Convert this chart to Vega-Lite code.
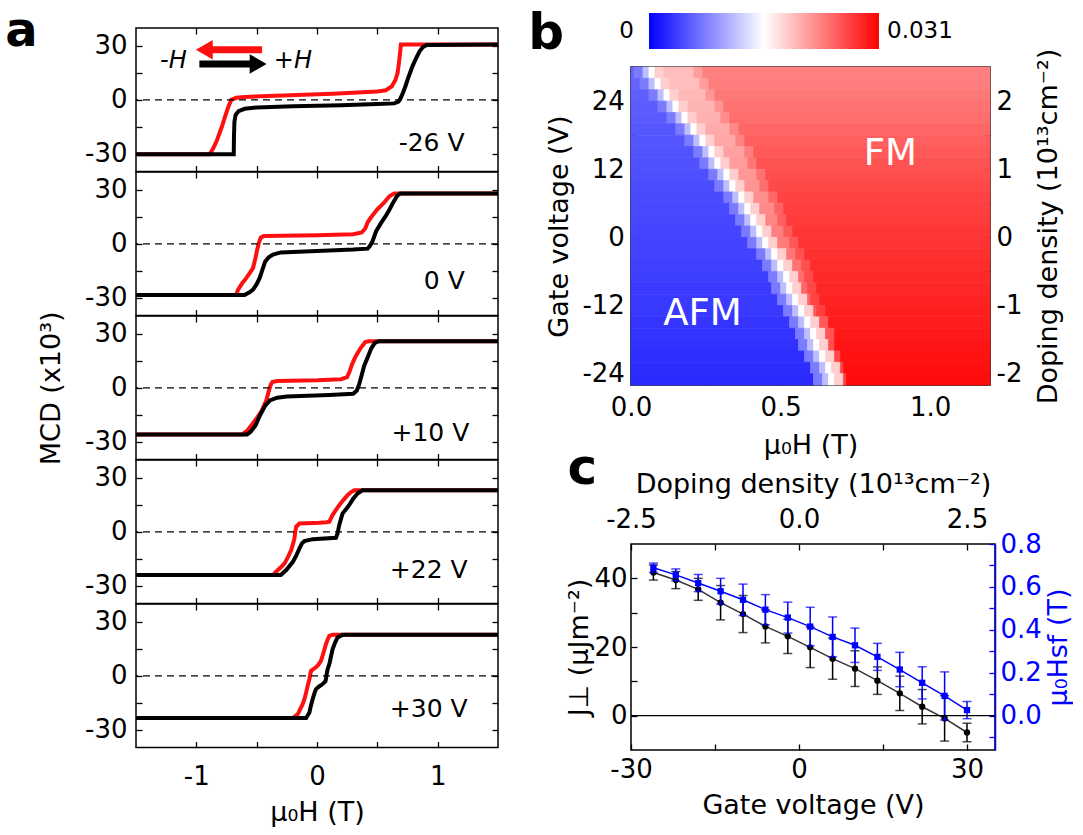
{
"$schema": "https://vega.github.io/schema/vega-lite/v6.json",
"background": "white",
"padding": {"left": 4, "top": 7, "right": 0, "bottom": 0},
"config": {
 "font": "DejaVu Sans",
 "view": {"stroke": "black", "strokeWidth": 1.5},
 "axis": {"grid": false, "domain": false, "ticks": true, "tickColor": "black", "tickSize": -6, "tickWidth": 1.3, "labelColor": "black", "labelFontSize": 26, "labelFont": "DejaVu Sans", "titleFont": "DejaVu Sans", "titleFontSize": 27, "titleFontWeight": "normal", "titleColor": "black", "labelFlush": false, "labelOverlap": false, "labelBound": false}
},
"datasets": {
"curves": [
{"p":"A","s":"b","h":-1.5,"m":-30.3},{"p":"A","s":"b","h":-0.69,"m":-30.3},{"p":"A","s":"b","h":-0.688,"m":-20},{"p":"A","s":"b","h":-0.684,"m":-12},{"p":"A","s":"b","h":-0.675,"m":-8.5},{"p":"A","s":"b","h":-0.65,"m":-6.3},{"p":"A","s":"b","h":-0.6,"m":-5},{"p":"A","s":"b","h":-0.5,"m":-4.3},{"p":"A","s":"b","h":-0.2,"m":-3.6},{"p":"A","s":"b","h":0.2,"m":-3},{"p":"A","s":"b","h":0.5,"m":-2.4},{"p":"A","s":"b","h":0.64,"m":-2},{"p":"A","s":"b","h":0.675,"m":-1},{"p":"A","s":"b","h":0.69,"m":0.5},{"p":"A","s":"b","h":0.71,"m":3.5},{"p":"A","s":"b","h":0.73,"m":7},{"p":"A","s":"b","h":0.76,"m":13},{"p":"A","s":"b","h":0.79,"m":18.5},{"p":"A","s":"b","h":0.82,"m":23},{"p":"A","s":"b","h":0.85,"m":27},{"p":"A","s":"b","h":0.88,"m":29.5},{"p":"A","s":"b","h":0.91,"m":30.5},{"p":"A","s":"b","h":1.5,"m":30.8},
{"p":"A","s":"r","h":-1.5,"m":-30.3},{"p":"A","s":"r","h":-0.89,"m":-30.3},{"p":"A","s":"r","h":-0.86,"m":-27},{"p":"A","s":"r","h":-0.83,"m":-22.7},{"p":"A","s":"r","h":-0.79,"m":-15.3},{"p":"A","s":"r","h":-0.76,"m":-9},{"p":"A","s":"r","h":-0.736,"m":-4.1},{"p":"A","s":"r","h":-0.71,"m":0},{"p":"A","s":"r","h":-0.67,"m":1.1},{"p":"A","s":"r","h":-0.6,"m":1.6},{"p":"A","s":"r","h":0.13,"m":3.4},{"p":"A","s":"r","h":0.5,"m":4.6},{"p":"A","s":"r","h":0.57,"m":5.3},{"p":"A","s":"r","h":0.62,"m":7.5},{"p":"A","s":"r","h":0.65,"m":11},{"p":"A","s":"r","h":0.668,"m":15},{"p":"A","s":"r","h":0.68,"m":21},{"p":"A","s":"r","h":0.69,"m":27},{"p":"A","s":"r","h":0.695,"m":30.8},{"p":"A","s":"r","h":1.5,"m":30.8},
{"p":"B","s":"b","h":-1.5,"m":-28.5},{"p":"B","s":"b","h":-0.6,"m":-28.5},{"p":"B","s":"b","h":-0.56,"m":-27},{"p":"B","s":"b","h":-0.53,"m":-25.5},{"p":"B","s":"b","h":-0.5,"m":-22.5},{"p":"B","s":"b","h":-0.475,"m":-19},{"p":"B","s":"b","h":-0.45,"m":-14},{"p":"B","s":"b","h":-0.43,"m":-10},{"p":"B","s":"b","h":-0.4,"m":-7.5},{"p":"B","s":"b","h":-0.365,"m":-6},{"p":"B","s":"b","h":-0.3,"m":-4.8},{"p":"B","s":"b","h":0,"m":-4},{"p":"B","s":"b","h":0.3,"m":-3.2},{"p":"B","s":"b","h":0.42,"m":-2.7},{"p":"B","s":"b","h":0.44,"m":-1},{"p":"B","s":"b","h":0.46,"m":1.5},{"p":"B","s":"b","h":0.49,"m":7},{"p":"B","s":"b","h":0.53,"m":11.5},{"p":"B","s":"b","h":0.57,"m":15.5},{"p":"B","s":"b","h":0.6,"m":19},{"p":"B","s":"b","h":0.635,"m":23.5},{"p":"B","s":"b","h":0.665,"m":26.8},{"p":"B","s":"b","h":0.69,"m":28},{"p":"B","s":"b","h":1.5,"m":28},
{"p":"B","s":"r","h":-1.5,"m":-28.5},{"p":"B","s":"r","h":-0.67,"m":-28.5},{"p":"B","s":"r","h":-0.654,"m":-25.5},{"p":"B","s":"r","h":-0.62,"m":-22},{"p":"B","s":"r","h":-0.585,"m":-19},{"p":"B","s":"r","h":-0.555,"m":-16},{"p":"B","s":"r","h":-0.53,"m":-13.4},{"p":"B","s":"r","h":-0.51,"m":-8},{"p":"B","s":"r","h":-0.495,"m":-3},{"p":"B","s":"r","h":-0.48,"m":1},{"p":"B","s":"r","h":-0.465,"m":3.5},{"p":"B","s":"r","h":-0.44,"m":4.3},{"p":"B","s":"r","h":0,"m":4.8},{"p":"B","s":"r","h":0.3,"m":5.3},{"p":"B","s":"r","h":0.37,"m":6.3},{"p":"B","s":"r","h":0.4,"m":8.5},{"p":"B","s":"r","h":0.42,"m":12},{"p":"B","s":"r","h":0.445,"m":14.5},{"p":"B","s":"r","h":0.5,"m":19.2},{"p":"B","s":"r","h":0.55,"m":22.5},{"p":"B","s":"r","h":0.6,"m":26.5},{"p":"B","s":"r","h":0.64,"m":28},{"p":"B","s":"r","h":1.5,"m":28},
{"p":"C","s":"b","h":-1.5,"m":-26},{"p":"C","s":"b","h":-0.58,"m":-26},{"p":"C","s":"b","h":-0.55,"m":-24.5},{"p":"C","s":"b","h":-0.51,"m":-21},{"p":"C","s":"b","h":-0.47,"m":-15},{"p":"C","s":"b","h":-0.43,"m":-10},{"p":"C","s":"b","h":-0.39,"m":-7},{"p":"C","s":"b","h":-0.33,"m":-5.5},{"p":"C","s":"b","h":-0.25,"m":-4.8},{"p":"C","s":"b","h":0.1,"m":-4},{"p":"C","s":"b","h":0.3,"m":-3.3},{"p":"C","s":"b","h":0.33,"m":-1.5},{"p":"C","s":"b","h":0.35,"m":2},{"p":"C","s":"b","h":0.37,"m":7},{"p":"C","s":"b","h":0.39,"m":12},{"p":"C","s":"b","h":0.42,"m":17},{"p":"C","s":"b","h":0.45,"m":22},{"p":"C","s":"b","h":0.48,"m":25},{"p":"C","s":"b","h":0.51,"m":26},{"p":"C","s":"b","h":1.5,"m":26},
{"p":"C","s":"r","h":-1.5,"m":-26},{"p":"C","s":"r","h":-0.62,"m":-26},{"p":"C","s":"r","h":-0.58,"m":-24},{"p":"C","s":"r","h":-0.54,"m":-20.5},{"p":"C","s":"r","h":-0.5,"m":-17},{"p":"C","s":"r","h":-0.46,"m":-13},{"p":"C","s":"r","h":-0.42,"m":-7},{"p":"C","s":"r","h":-0.4,"m":-2},{"p":"C","s":"r","h":-0.385,"m":1.5},{"p":"C","s":"r","h":-0.37,"m":3.2},{"p":"C","s":"r","h":-0.33,"m":3.8},{"p":"C","s":"r","h":0,"m":4.2},{"p":"C","s":"r","h":0.2,"m":4.8},{"p":"C","s":"r","h":0.25,"m":6},{"p":"C","s":"r","h":0.27,"m":9},{"p":"C","s":"r","h":0.29,"m":13},{"p":"C","s":"r","h":0.32,"m":17.5},{"p":"C","s":"r","h":0.36,"m":22},{"p":"C","s":"r","h":0.4,"m":25.5},{"p":"C","s":"r","h":0.43,"m":26},{"p":"C","s":"r","h":1.5,"m":26},
{"p":"D","s":"b","h":-1.5,"m":-24.1},{"p":"D","s":"b","h":-0.3,"m":-24.1},{"p":"D","s":"b","h":-0.255,"m":-21.3},{"p":"D","s":"b","h":-0.2,"m":-16.7},{"p":"D","s":"b","h":-0.17,"m":-13},{"p":"D","s":"b","h":-0.146,"m":-9.3},{"p":"D","s":"b","h":-0.125,"m":-6.5},{"p":"D","s":"b","h":-0.104,"m":-5.2},{"p":"D","s":"b","h":-0.036,"m":-4.1},{"p":"D","s":"b","h":0.157,"m":-3.3},{"p":"D","s":"b","h":0.17,"m":-1},{"p":"D","s":"b","h":0.184,"m":3.7},{"p":"D","s":"b","h":0.2,"m":7.5},{"p":"D","s":"b","h":0.212,"m":10.2},{"p":"D","s":"b","h":0.24,"m":12.5},{"p":"D","s":"b","h":0.266,"m":14.8},{"p":"D","s":"b","h":0.3,"m":18.5},{"p":"D","s":"b","h":0.335,"m":21.3},{"p":"D","s":"b","h":0.376,"m":23.1},{"p":"D","s":"b","h":1.5,"m":23.1},
{"p":"D","s":"r","h":-1.5,"m":-24.1},{"p":"D","s":"r","h":-0.36,"m":-24.1},{"p":"D","s":"r","h":-0.352,"m":-23.1},{"p":"D","s":"r","h":-0.324,"m":-21.3},{"p":"D","s":"r","h":-0.295,"m":-19.5},{"p":"D","s":"r","h":-0.269,"m":-17.6},{"p":"D","s":"r","h":-0.24,"m":-14},{"p":"D","s":"r","h":-0.214,"m":-10.2},{"p":"D","s":"r","h":-0.2,"m":-7},{"p":"D","s":"r","h":-0.187,"m":-3.7},{"p":"D","s":"r","h":-0.18,"m":0},{"p":"D","s":"r","h":-0.173,"m":2.8},{"p":"D","s":"r","h":-0.146,"m":4.6},{"p":"D","s":"r","h":0.019,"m":5},{"p":"D","s":"r","h":0.08,"m":5.3},{"p":"D","s":"r","h":0.102,"m":5.6},{"p":"D","s":"r","h":0.115,"m":7.5},{"p":"D","s":"r","h":0.129,"m":9.3},{"p":"D","s":"r","h":0.155,"m":12},{"p":"D","s":"r","h":0.184,"m":14.8},{"p":"D","s":"r","h":0.22,"m":17.8},{"p":"D","s":"r","h":0.253,"m":20.4},{"p":"D","s":"r","h":0.28,"m":22},{"p":"D","s":"r","h":0.308,"m":23.1},{"p":"D","s":"r","h":1.5,"m":23.1},
{"p":"E","s":"b","h":-1.5,"m":-23.5},{"p":"E","s":"b","h":-0.09,"m":-23.5},{"p":"E","s":"b","h":-0.063,"m":-20.4},{"p":"E","s":"b","h":-0.05,"m":-16.5},{"p":"E","s":"b","h":-0.036,"m":-13},{"p":"E","s":"b","h":-0.02,"m":-9.5},{"p":"E","s":"b","h":-0.008,"m":-7.4},{"p":"E","s":"b","h":0.02,"m":-5.8},{"p":"E","s":"b","h":0.047,"m":-4.6},{"p":"E","s":"b","h":0.07,"m":-3},{"p":"E","s":"b","h":0.074,"m":-1.9},{"p":"E","s":"b","h":0.08,"m":1},{"p":"E","s":"b","h":0.088,"m":3.7},{"p":"E","s":"b","h":0.102,"m":6.5},{"p":"E","s":"b","h":0.115,"m":10.5},{"p":"E","s":"b","h":0.129,"m":14.8},{"p":"E","s":"b","h":0.15,"m":18.5},{"p":"E","s":"b","h":0.17,"m":21.3},{"p":"E","s":"b","h":0.212,"m":22.8},{"p":"E","s":"b","h":1.5,"m":22.8},
{"p":"E","s":"r","h":-1.5,"m":-23.5},{"p":"E","s":"r","h":-0.2,"m":-23.5},{"p":"E","s":"r","h":-0.159,"m":-21.3},{"p":"E","s":"r","h":-0.118,"m":-15.7},{"p":"E","s":"r","h":-0.1,"m":-12},{"p":"E","s":"r","h":-0.09,"m":-9.3},{"p":"E","s":"r","h":-0.075,"m":-5},{"p":"E","s":"r","h":-0.063,"m":-1.9},{"p":"E","s":"r","h":-0.055,"m":1},{"p":"E","s":"r","h":-0.049,"m":2.8},{"p":"E","s":"r","h":-0.02,"m":4.2},{"p":"E","s":"r","h":0.005,"m":5.6},{"p":"E","s":"r","h":0.02,"m":7},{"p":"E","s":"r","h":0.033,"m":8.3},{"p":"E","s":"r","h":0.05,"m":12},{"p":"E","s":"r","h":0.065,"m":15.5},{"p":"E","s":"r","h":0.074,"m":17.6},{"p":"E","s":"r","h":0.09,"m":20.5},{"p":"E","s":"r","h":0.102,"m":22.2},{"p":"E","s":"r","h":0.129,"m":22.8},{"p":"E","s":"r","h":1.5,"m":22.8}
],
"heat": [
{"h1":0,"h2":0.01,"v1":28,"v2":30,"m":0.006},{"h1":0.01,"h2":0.04,"v1":28,"v2":30,"m":0.0075},{"h1":0.04,"h2":0.06,"v1":28,"v2":30,"m":0.0115},{"h1":0.06,"h2":0.08,"v1":28,"v2":30,"m":0.0155},{"h1":0.08,"h2":0.11,"v1":28,"v2":30,"m":0.0185},{"h1":0.11,"h2":0.21,"v1":28,"v2":30,"m":0.0195},{"h1":0.21,"h2":0.24,"v1":28,"v2":30,"m":0.0214},{"h1":0.24,"h2":1.2,"v1":28,"v2":30,"m":0.0232},
{"h1":0,"h2":0.03,"v1":26,"v2":28,"m":0.006},{"h1":0.03,"h2":0.06,"v1":26,"v2":28,"m":0.0075},{"h1":0.06,"h2":0.08,"v1":26,"v2":28,"m":0.0115},{"h1":0.08,"h2":0.1,"v1":26,"v2":28,"m":0.0155},{"h1":0.1,"h2":0.13,"v1":26,"v2":28,"m":0.0185},{"h1":0.13,"h2":0.23,"v1":26,"v2":28,"m":0.0195},{"h1":0.23,"h2":0.26,"v1":26,"v2":28,"m":0.0215},{"h1":0.26,"h2":1.2,"v1":26,"v2":28,"m":0.0234},
{"h1":0,"h2":0.06,"v1":24,"v2":26,"m":0.0058},{"h1":0.06,"h2":0.09,"v1":24,"v2":26,"m":0.0075},{"h1":0.09,"h2":0.11,"v1":24,"v2":26,"m":0.0115},{"h1":0.11,"h2":0.13,"v1":24,"v2":26,"m":0.0155},{"h1":0.13,"h2":0.16,"v1":24,"v2":26,"m":0.0185},{"h1":0.16,"h2":0.25,"v1":24,"v2":26,"m":0.0198},{"h1":0.25,"h2":0.28,"v1":24,"v2":26,"m":0.0218},{"h1":0.28,"h2":1.2,"v1":24,"v2":26,"m":0.0237},
{"h1":0,"h2":0.09,"v1":22,"v2":24,"m":0.0056},{"h1":0.09,"h2":0.12,"v1":22,"v2":24,"m":0.0075},{"h1":0.12,"h2":0.14,"v1":22,"v2":24,"m":0.0115},{"h1":0.14,"h2":0.16,"v1":22,"v2":24,"m":0.0155},{"h1":0.16,"h2":0.19,"v1":22,"v2":24,"m":0.0185},{"h1":0.19,"h2":0.28,"v1":22,"v2":24,"m":0.02},{"h1":0.28,"h2":0.31,"v1":22,"v2":24,"m":0.022},{"h1":0.31,"h2":1.2,"v1":22,"v2":24,"m":0.024},
{"h1":0,"h2":0.12,"v1":20,"v2":22,"m":0.0055},{"h1":0.12,"h2":0.15,"v1":20,"v2":22,"m":0.0075},{"h1":0.15,"h2":0.17,"v1":20,"v2":22,"m":0.0115},{"h1":0.17,"h2":0.19,"v1":20,"v2":22,"m":0.0155},{"h1":0.19,"h2":0.22,"v1":20,"v2":22,"m":0.0185},{"h1":0.22,"h2":0.3,"v1":20,"v2":22,"m":0.0203},{"h1":0.3,"h2":0.33,"v1":20,"v2":22,"m":0.0224},{"h1":0.33,"h2":1.2,"v1":20,"v2":22,"m":0.0244},
{"h1":0,"h2":0.15,"v1":18,"v2":20,"m":0.0053},{"h1":0.15,"h2":0.18,"v1":18,"v2":20,"m":0.0075},{"h1":0.18,"h2":0.2,"v1":18,"v2":20,"m":0.0115},{"h1":0.2,"h2":0.22,"v1":18,"v2":20,"m":0.0155},{"h1":0.22,"h2":0.25,"v1":18,"v2":20,"m":0.0185},{"h1":0.25,"h2":0.33,"v1":18,"v2":20,"m":0.0206},{"h1":0.33,"h2":0.36,"v1":18,"v2":20,"m":0.0227},{"h1":0.36,"h2":1.2,"v1":18,"v2":20,"m":0.0248},
{"h1":0,"h2":0.18,"v1":16,"v2":18,"m":0.0052},{"h1":0.18,"h2":0.21,"v1":16,"v2":18,"m":0.0075},{"h1":0.21,"h2":0.23,"v1":16,"v2":18,"m":0.0115},{"h1":0.23,"h2":0.25,"v1":16,"v2":18,"m":0.0155},{"h1":0.25,"h2":0.28,"v1":16,"v2":18,"m":0.0185},{"h1":0.28,"h2":0.35,"v1":16,"v2":18,"m":0.0209},{"h1":0.35,"h2":0.38,"v1":16,"v2":18,"m":0.0231},{"h1":0.38,"h2":1.2,"v1":16,"v2":18,"m":0.0252},
{"h1":0,"h2":0.21,"v1":14,"v2":16,"m":0.005},{"h1":0.21,"h2":0.24,"v1":14,"v2":16,"m":0.0075},{"h1":0.24,"h2":0.26,"v1":14,"v2":16,"m":0.0115},{"h1":0.26,"h2":0.28,"v1":14,"v2":16,"m":0.0155},{"h1":0.28,"h2":0.31,"v1":14,"v2":16,"m":0.0185},{"h1":0.31,"h2":0.38,"v1":14,"v2":16,"m":0.0212},{"h1":0.38,"h2":0.41,"v1":14,"v2":16,"m":0.0234},{"h1":0.41,"h2":1.2,"v1":14,"v2":16,"m":0.0256},
{"h1":0,"h2":0.23,"v1":12,"v2":14,"m":0.0049},{"h1":0.23,"h2":0.26,"v1":12,"v2":14,"m":0.0075},{"h1":0.26,"h2":0.28,"v1":12,"v2":14,"m":0.0115},{"h1":0.28,"h2":0.3,"v1":12,"v2":14,"m":0.0155},{"h1":0.3,"h2":0.33,"v1":12,"v2":14,"m":0.0185},{"h1":0.33,"h2":0.39,"v1":12,"v2":14,"m":0.0215},{"h1":0.39,"h2":0.42,"v1":12,"v2":14,"m":0.0238},{"h1":0.42,"h2":1.2,"v1":12,"v2":14,"m":0.026},
{"h1":0,"h2":0.26,"v1":10,"v2":12,"m":0.0048},{"h1":0.26,"h2":0.29,"v1":10,"v2":12,"m":0.0075},{"h1":0.29,"h2":0.31,"v1":10,"v2":12,"m":0.0115},{"h1":0.31,"h2":0.33,"v1":10,"v2":12,"m":0.0155},{"h1":0.33,"h2":0.36,"v1":10,"v2":12,"m":0.0185},{"h1":0.36,"h2":0.42,"v1":10,"v2":12,"m":0.0218},{"h1":0.42,"h2":0.45,"v1":10,"v2":12,"m":0.0241},{"h1":0.45,"h2":1.2,"v1":10,"v2":12,"m":0.0263},
{"h1":0,"h2":0.28,"v1":8,"v2":10,"m":0.0046},{"h1":0.28,"h2":0.31,"v1":8,"v2":10,"m":0.0075},{"h1":0.31,"h2":0.33,"v1":8,"v2":10,"m":0.0115},{"h1":0.33,"h2":0.35,"v1":8,"v2":10,"m":0.0155},{"h1":0.35,"h2":0.38,"v1":8,"v2":10,"m":0.0185},{"h1":0.38,"h2":0.43,"v1":8,"v2":10,"m":0.022},{"h1":0.43,"h2":0.46,"v1":8,"v2":10,"m":0.0243},{"h1":0.46,"h2":1.2,"v1":8,"v2":10,"m":0.0266},
{"h1":0,"h2":0.31,"v1":6,"v2":8,"m":0.0045},{"h1":0.31,"h2":0.34,"v1":6,"v2":8,"m":0.0075},{"h1":0.34,"h2":0.36,"v1":6,"v2":8,"m":0.0115},{"h1":0.36,"h2":0.38,"v1":6,"v2":8,"m":0.0155},{"h1":0.38,"h2":0.41,"v1":6,"v2":8,"m":0.0185},{"h1":0.41,"h2":0.46,"v1":6,"v2":8,"m":0.0223},{"h1":0.46,"h2":0.49,"v1":6,"v2":8,"m":0.0246},{"h1":0.49,"h2":1.2,"v1":6,"v2":8,"m":0.0269},
{"h1":0,"h2":0.33,"v1":4,"v2":6,"m":0.0044},{"h1":0.33,"h2":0.36,"v1":4,"v2":6,"m":0.0075},{"h1":0.36,"h2":0.38,"v1":4,"v2":6,"m":0.0115},{"h1":0.38,"h2":0.4,"v1":4,"v2":6,"m":0.0155},{"h1":0.4,"h2":0.43,"v1":4,"v2":6,"m":0.0185},{"h1":0.43,"h2":0.48,"v1":4,"v2":6,"m":0.0226},{"h1":0.48,"h2":0.51,"v1":4,"v2":6,"m":0.0249},{"h1":0.51,"h2":1.2,"v1":4,"v2":6,"m":0.0272},
{"h1":0,"h2":0.35,"v1":2,"v2":4,"m":0.0043},{"h1":0.35,"h2":0.38,"v1":2,"v2":4,"m":0.0075},{"h1":0.38,"h2":0.4,"v1":2,"v2":4,"m":0.0115},{"h1":0.4,"h2":0.42,"v1":2,"v2":4,"m":0.0155},{"h1":0.42,"h2":0.45,"v1":2,"v2":4,"m":0.0185},{"h1":0.45,"h2":0.49,"v1":2,"v2":4,"m":0.0229},{"h1":0.49,"h2":0.52,"v1":2,"v2":4,"m":0.0252},{"h1":0.52,"h2":1.2,"v1":2,"v2":4,"m":0.0274},
{"h1":0,"h2":0.37,"v1":0,"v2":2,"m":0.0042},{"h1":0.37,"h2":0.4,"v1":0,"v2":2,"m":0.0075},{"h1":0.4,"h2":0.42,"v1":0,"v2":2,"m":0.0115},{"h1":0.42,"h2":0.44,"v1":0,"v2":2,"m":0.0155},{"h1":0.44,"h2":0.47,"v1":0,"v2":2,"m":0.0185},{"h1":0.47,"h2":0.51,"v1":0,"v2":2,"m":0.0232},{"h1":0.51,"h2":0.54,"v1":0,"v2":2,"m":0.0255},{"h1":0.54,"h2":1.2,"v1":0,"v2":2,"m":0.0277},
{"h1":0,"h2":0.39,"v1":-2,"v2":0,"m":0.0041},{"h1":0.39,"h2":0.42,"v1":-2,"v2":0,"m":0.0075},{"h1":0.42,"h2":0.44,"v1":-2,"v2":0,"m":0.0115},{"h1":0.44,"h2":0.46,"v1":-2,"v2":0,"m":0.0155},{"h1":0.46,"h2":0.49,"v1":-2,"v2":0,"m":0.0185},{"h1":0.49,"h2":0.53,"v1":-2,"v2":0,"m":0.0235},{"h1":0.53,"h2":0.56,"v1":-2,"v2":0,"m":0.0257},{"h1":0.56,"h2":1.2,"v1":-2,"v2":0,"m":0.0279},
{"h1":0,"h2":0.42,"v1":-4,"v2":-2,"m":0.004},{"h1":0.42,"h2":0.45,"v1":-4,"v2":-2,"m":0.0075},{"h1":0.45,"h2":0.47,"v1":-4,"v2":-2,"m":0.0115},{"h1":0.47,"h2":0.49,"v1":-4,"v2":-2,"m":0.0155},{"h1":0.49,"h2":0.52,"v1":-4,"v2":-2,"m":0.0185},{"h1":0.52,"h2":0.55,"v1":-4,"v2":-2,"m":0.0238},{"h1":0.55,"h2":0.58,"v1":-4,"v2":-2,"m":0.026},{"h1":0.58,"h2":1.2,"v1":-4,"v2":-2,"m":0.0281},
{"h1":0,"h2":0.44,"v1":-6,"v2":-4,"m":0.0039},{"h1":0.44,"h2":0.47,"v1":-6,"v2":-4,"m":0.0075},{"h1":0.47,"h2":0.49,"v1":-6,"v2":-4,"m":0.0115},{"h1":0.49,"h2":0.51,"v1":-6,"v2":-4,"m":0.0155},{"h1":0.51,"h2":0.54,"v1":-6,"v2":-4,"m":0.0185},{"h1":0.54,"h2":0.57,"v1":-6,"v2":-4,"m":0.0241},{"h1":0.57,"h2":0.6,"v1":-6,"v2":-4,"m":0.0262},{"h1":0.6,"h2":1.2,"v1":-6,"v2":-4,"m":0.0283},
{"h1":0,"h2":0.46,"v1":-8,"v2":-6,"m":0.0038},{"h1":0.46,"h2":0.49,"v1":-8,"v2":-6,"m":0.0075},{"h1":0.49,"h2":0.51,"v1":-8,"v2":-6,"m":0.0115},{"h1":0.51,"h2":0.53,"v1":-8,"v2":-6,"m":0.0155},{"h1":0.53,"h2":0.56,"v1":-8,"v2":-6,"m":0.0185},{"h1":0.56,"h2":0.58,"v1":-8,"v2":-6,"m":0.0244},{"h1":0.58,"h2":0.61,"v1":-8,"v2":-6,"m":0.0265},{"h1":0.61,"h2":1.2,"v1":-8,"v2":-6,"m":0.0285},
{"h1":0,"h2":0.47,"v1":-10,"v2":-8,"m":0.0036},{"h1":0.47,"h2":0.5,"v1":-10,"v2":-8,"m":0.0075},{"h1":0.5,"h2":0.52,"v1":-10,"v2":-8,"m":0.0115},{"h1":0.52,"h2":0.54,"v1":-10,"v2":-8,"m":0.0155},{"h1":0.54,"h2":0.57,"v1":-10,"v2":-8,"m":0.0185},{"h1":0.57,"h2":0.59,"v1":-10,"v2":-8,"m":0.0247},{"h1":0.59,"h2":0.62,"v1":-10,"v2":-8,"m":0.0267},{"h1":0.62,"h2":1.2,"v1":-10,"v2":-8,"m":0.0287},
{"h1":0,"h2":0.49,"v1":-12,"v2":-10,"m":0.0035},{"h1":0.49,"h2":0.52,"v1":-12,"v2":-10,"m":0.0075},{"h1":0.52,"h2":0.54,"v1":-12,"v2":-10,"m":0.0115},{"h1":0.54,"h2":0.56,"v1":-12,"v2":-10,"m":0.0155},{"h1":0.56,"h2":0.59,"v1":-12,"v2":-10,"m":0.0185},{"h1":0.59,"h2":0.6,"v1":-12,"v2":-10,"m":0.025},{"h1":0.6,"h2":0.63,"v1":-12,"v2":-10,"m":0.027},{"h1":0.63,"h2":1.2,"v1":-12,"v2":-10,"m":0.0289},
{"h1":0,"h2":0.51,"v1":-14,"v2":-12,"m":0.0034},{"h1":0.51,"h2":0.54,"v1":-14,"v2":-12,"m":0.0075},{"h1":0.54,"h2":0.56,"v1":-14,"v2":-12,"m":0.0115},{"h1":0.56,"h2":0.58,"v1":-14,"v2":-12,"m":0.0155},{"h1":0.58,"h2":0.61,"v1":-14,"v2":-12,"m":0.0185},{"h1":0.61,"h2":0.62,"v1":-14,"v2":-12,"m":0.0253},{"h1":0.62,"h2":0.65,"v1":-14,"v2":-12,"m":0.0272},{"h1":0.65,"h2":1.2,"v1":-14,"v2":-12,"m":0.0291},
{"h1":0,"h2":0.53,"v1":-16,"v2":-14,"m":0.0032},{"h1":0.53,"h2":0.56,"v1":-16,"v2":-14,"m":0.0075},{"h1":0.56,"h2":0.58,"v1":-16,"v2":-14,"m":0.0115},{"h1":0.58,"h2":0.6,"v1":-16,"v2":-14,"m":0.0155},{"h1":0.6,"h2":0.63,"v1":-16,"v2":-14,"m":0.0185},{"h1":0.63,"h2":0.66,"v1":-16,"v2":-14,"m":0.0256},{"h1":0.66,"h2":1.2,"v1":-16,"v2":-14,"m":0.0293},
{"h1":0,"h2":0.55,"v1":-18,"v2":-16,"m":0.0031},{"h1":0.55,"h2":0.58,"v1":-18,"v2":-16,"m":0.0075},{"h1":0.58,"h2":0.6,"v1":-18,"v2":-16,"m":0.0115},{"h1":0.6,"h2":0.62,"v1":-18,"v2":-16,"m":0.0155},{"h1":0.62,"h2":0.65,"v1":-18,"v2":-16,"m":0.0185},{"h1":0.65,"h2":0.68,"v1":-18,"v2":-16,"m":0.0259},{"h1":0.68,"h2":1.2,"v1":-18,"v2":-16,"m":0.0295},
{"h1":0,"h2":0.56,"v1":-20,"v2":-18,"m":0.003},{"h1":0.56,"h2":0.59,"v1":-20,"v2":-18,"m":0.0075},{"h1":0.59,"h2":0.61,"v1":-20,"v2":-18,"m":0.0115},{"h1":0.61,"h2":0.63,"v1":-20,"v2":-18,"m":0.0155},{"h1":0.63,"h2":0.66,"v1":-20,"v2":-18,"m":0.0185},{"h1":0.66,"h2":0.68,"v1":-20,"v2":-18,"m":0.0262},{"h1":0.68,"h2":1.2,"v1":-20,"v2":-18,"m":0.0297},
{"h1":0,"h2":0.58,"v1":-22,"v2":-20,"m":0.0028},{"h1":0.58,"h2":0.61,"v1":-22,"v2":-20,"m":0.0075},{"h1":0.61,"h2":0.63,"v1":-22,"v2":-20,"m":0.0115},{"h1":0.63,"h2":0.65,"v1":-22,"v2":-20,"m":0.0155},{"h1":0.65,"h2":0.68,"v1":-22,"v2":-20,"m":0.0185},{"h1":0.68,"h2":0.7,"v1":-22,"v2":-20,"m":0.0265},{"h1":0.7,"h2":1.2,"v1":-22,"v2":-20,"m":0.0299},
{"h1":0,"h2":0.6,"v1":-24,"v2":-22,"m":0.0027},{"h1":0.6,"h2":0.63,"v1":-24,"v2":-22,"m":0.0075},{"h1":0.63,"h2":0.65,"v1":-24,"v2":-22,"m":0.0115},{"h1":0.65,"h2":0.67,"v1":-24,"v2":-22,"m":0.0155},{"h1":0.67,"h2":0.7,"v1":-24,"v2":-22,"m":0.0185},{"h1":0.7,"h2":0.71,"v1":-24,"v2":-22,"m":0.0268},{"h1":0.71,"h2":1.2,"v1":-24,"v2":-22,"m":0.0301},
{"h1":0,"h2":0.61,"v1":-26,"v2":-24,"m":0.0026},{"h1":0.61,"h2":0.64,"v1":-26,"v2":-24,"m":0.0075},{"h1":0.64,"h2":0.66,"v1":-26,"v2":-24,"m":0.0115},{"h1":0.66,"h2":0.68,"v1":-26,"v2":-24,"m":0.0155},{"h1":0.68,"h2":0.71,"v1":-26,"v2":-24,"m":0.0185},{"h1":0.71,"h2":0.72,"v1":-26,"v2":-24,"m":0.027},{"h1":0.72,"h2":1.2,"v1":-26,"v2":-24,"m":0.0303}
],
"jd": [
{"V":-26,"J":41.7,"Je":2.2,"Hs":0.689,"He":0.022},{"V":-22,"J":39.5,"Je":2.5,"Hs":0.656,"He":0.028},{"V":-18,"J":36.8,"Je":3.2,"Hs":0.618,"He":0.04},{"V":-14,"J":32.9,"Je":5,"Hs":0.58,"He":0.06},{"V":-10,"J":29.6,"Je":5.4,"Hs":0.54,"He":0.073},{"V":-6,"J":26,"Je":4.8,"Hs":0.494,"He":0.07},{"V":-2,"J":23.1,"Je":5,"Hs":0.457,"He":0.072},{"V":2,"J":19.9,"Je":5.9,"Hs":0.415,"He":0.09},{"V":6,"J":16.6,"Je":6,"Hs":0.367,"He":0.093},{"V":10,"J":13.7,"Je":5.2,"Hs":0.328,"He":0.08},{"V":14,"J":10.2,"Je":4,"Hs":0.274,"He":0.063},{"V":18,"J":6.5,"Je":5,"Hs":0.215,"He":0.08},{"V":22,"J":2.6,"Je":5,"Hs":0.153,"He":0.075},{"V":26,"J":-0.8,"Je":6.6,"Hs":0.092,"He":0.112},{"V":30,"J":-4.9,"Je":2.7,"Hs":0.026,"He":0.04}
]
},
"hconcat": [
{"vconcat": [
 {"width": 362, "height": 143.6, "data": {"name": "curves"},
  "layer": [
   {"transform": [{"filter": "datum.p === 'A' && datum.s === 'r'"}], "mark": {"type": "line", "color": "#ff1010", "strokeWidth": 4},
    "encoding": {"x": {"field": "h", "type": "quantitative", "scale": {"domain": [-1.5, 1.5], "nice": false, "zero": false}, "axis": {"orient": "bottom", "values": [-1, -0.5, 0, 0.5, 1], "labels": false, "title": null}},
                 "y": {"field": "m", "type": "quantitative", "scale": {"domain": [-40, 40], "nice": false, "zero": false}, "axis": {"orient": "left", "values": [-30, -15, 0, 15, 30], "labelExpr": "abs(datum.value) === 15 ? '' : '' + datum.value", "labelPadding": 15, "title": null}}}},
   {"transform": [{"filter": "datum.p === 'A' && datum.s === 'b'"}], "mark": {"type": "line", "color": "black", "strokeWidth": 4},
    "encoding": {"x": {"field": "h", "type": "quantitative", "scale": {"domain": [-1.5, 1.5], "nice": false, "zero": false}, "axis": {"orient": "top", "values": [-1, -0.5, 0, 0.5, 1], "labels": false, "title": null}},
                 "y": {"field": "m", "type": "quantitative", "scale": {"domain": [-40, 40], "nice": false, "zero": false}, "axis": {"orient": "right", "values": [-30, -15, 0, 15, 30], "labels": false, "title": null}}}},
   {"data": {"values": [{}]}, "mark": {"type": "rule", "color": "black", "strokeWidth": 1.3, "strokeDash": [7, 5]}, "encoding": {"y": {"datum": 0, "type": "quantitative", "axis": null}}},
   {"data": {"values": [{}]}, "mark": {"type": "text", "fontSize": 25, "baseline": "middle", "align": "center"}, "encoding": {"x": {"datum": 0.95, "type": "quantitative", "axis": null}, "y": {"datum": -24.3, "type": "quantitative", "axis": null}, "text": {"value": "-26 V"}}},
   {"data": {"values": [{}]}, "mark": {"type": "text", "fontSize": 48, "fontWeight": "bold", "baseline": "alphabetic", "align": "center"}, "encoding": {"x": {"datum": -2.45, "type": "quantitative", "axis": null}, "y": {"datum": 29.75, "type": "quantitative", "axis": null}, "text": {"value": "a"}}},
   {"data": {"values": [{}]}, "mark": {"type": "rule", "color": "#ff1010", "strokeWidth": 7}, "encoding": {"x": {"datum": -0.9, "type": "quantitative", "axis": null}, "x2": {"datum": -0.455}, "y": {"datum": 27.9, "type": "quantitative", "axis": null}}},
   {"data": {"values": [{}]}, "mark": {"type": "point", "shape": "triangle-left", "filled": true, "color": "#ff1010", "size": 380, "opacity": 1}, "encoding": {"x": {"datum": -0.934, "type": "quantitative", "axis": null}, "y": {"datum": 27.9, "type": "quantitative", "axis": null}}},
   {"data": {"values": [{}]}, "mark": {"type": "rule", "color": "black", "strokeWidth": 7}, "encoding": {"x": {"datum": -0.975, "type": "quantitative", "axis": null}, "x2": {"datum": -0.52}, "y": {"datum": 20, "type": "quantitative", "axis": null}}},
   {"data": {"values": [{}]}, "mark": {"type": "point", "shape": "triangle-right", "filled": true, "color": "black", "size": 380, "opacity": 1}, "encoding": {"x": {"datum": -0.488, "type": "quantitative", "axis": null}, "y": {"datum": 20, "type": "quantitative", "axis": null}}},
   {"data": {"values": [{}]}, "mark": {"type": "text", "fontSize": 24, "fontStyle": "italic", "baseline": "middle", "align": "center"}, "encoding": {"x": {"datum": -1.19, "type": "quantitative", "axis": null}, "y": {"datum": 21.8, "type": "quantitative", "axis": null}, "text": {"value": "-H"}}},
   {"data": {"values": [{}]}, "mark": {"type": "text", "fontSize": 24, "fontStyle": "italic", "baseline": "middle", "align": "center"}, "encoding": {"x": {"datum": -0.2, "type": "quantitative", "axis": null}, "y": {"datum": 21.8, "type": "quantitative", "axis": null}, "text": {"value": "+H"}}}
  ],
  "resolve": {"axis": {"x": "independent", "y": "independent"}}},
 {"width": 362, "height": 143.6, "data": {"name": "curves"},
  "layer": [
   {"transform": [{"filter": "datum.p === 'B' && datum.s === 'r'"}], "mark": {"type": "line", "color": "#ff1010", "strokeWidth": 4},
    "encoding": {"x": {"field": "h", "type": "quantitative", "scale": {"domain": [-1.5, 1.5], "nice": false, "zero": false}, "axis": {"orient": "bottom", "values": [-1, -0.5, 0, 0.5, 1], "labels": false, "title": null}},
                 "y": {"field": "m", "type": "quantitative", "scale": {"domain": [-40, 40], "nice": false, "zero": false}, "axis": {"orient": "left", "values": [-30, -15, 0, 15, 30], "labelExpr": "abs(datum.value) === 15 ? '' : '' + datum.value", "labelPadding": 15, "title": null}}}},
   {"transform": [{"filter": "datum.p === 'B' && datum.s === 'b'"}], "mark": {"type": "line", "color": "black", "strokeWidth": 4},
    "encoding": {"x": {"field": "h", "type": "quantitative", "scale": {"domain": [-1.5, 1.5], "nice": false, "zero": false}, "axis": {"orient": "top", "values": [-1, -0.5, 0, 0.5, 1], "labels": false, "title": null}},
                 "y": {"field": "m", "type": "quantitative", "scale": {"domain": [-40, 40], "nice": false, "zero": false}, "axis": {"orient": "right", "values": [-30, -15, 0, 15, 30], "labels": false, "title": null}}}},
   {"data": {"values": [{}]}, "mark": {"type": "rule", "color": "black", "strokeWidth": 1.3, "strokeDash": [7, 5]}, "encoding": {"y": {"datum": 0, "type": "quantitative", "axis": null}}},
   {"data": {"values": [{}]}, "mark": {"type": "text", "fontSize": 25, "baseline": "middle", "align": "center"}, "encoding": {"x": {"datum": 1.055, "type": "quantitative", "axis": null}, "y": {"datum": -20.7, "type": "quantitative", "axis": null}, "text": {"value": "0 V"}}}
  ],
  "resolve": {"axis": {"x": "independent", "y": "independent"}}},
 {"width": 362, "height": 143.6, "data": {"name": "curves"},
  "layer": [
   {"transform": [{"filter": "datum.p === 'C' && datum.s === 'r'"}], "mark": {"type": "line", "color": "#ff1010", "strokeWidth": 4},
    "encoding": {"x": {"field": "h", "type": "quantitative", "scale": {"domain": [-1.5, 1.5], "nice": false, "zero": false}, "axis": {"orient": "bottom", "values": [-1, -0.5, 0, 0.5, 1], "labels": false, "title": null}},
                 "y": {"field": "m", "type": "quantitative", "scale": {"domain": [-40, 40], "nice": false, "zero": false}, "axis": {"orient": "left", "values": [-30, -15, 0, 15, 30], "labelExpr": "abs(datum.value) === 15 ? '' : '' + datum.value", "labelPadding": 15, "title": "MCD (x10³)", "titlePadding": 19}}}},
   {"transform": [{"filter": "datum.p === 'C' && datum.s === 'b'"}], "mark": {"type": "line", "color": "black", "strokeWidth": 4},
    "encoding": {"x": {"field": "h", "type": "quantitative", "scale": {"domain": [-1.5, 1.5], "nice": false, "zero": false}, "axis": {"orient": "top", "values": [-1, -0.5, 0, 0.5, 1], "labels": false, "title": null}},
                 "y": {"field": "m", "type": "quantitative", "scale": {"domain": [-40, 40], "nice": false, "zero": false}, "axis": {"orient": "right", "values": [-30, -15, 0, 15, 30], "labels": false, "title": null}}}},
   {"data": {"values": [{}]}, "mark": {"type": "rule", "color": "black", "strokeWidth": 1.3, "strokeDash": [7, 5]}, "encoding": {"y": {"datum": 0, "type": "quantitative", "axis": null}}},
   {"data": {"values": [{}]}, "mark": {"type": "text", "fontSize": 25, "baseline": "middle", "align": "center"}, "encoding": {"x": {"datum": 0.94, "type": "quantitative", "axis": null}, "y": {"datum": -25.4, "type": "quantitative", "axis": null}, "text": {"value": "+10 V"}}}
  ],
  "resolve": {"axis": {"x": "independent", "y": "independent"}}},
 {"width": 362, "height": 143.6, "data": {"name": "curves"},
  "layer": [
   {"transform": [{"filter": "datum.p === 'D' && datum.s === 'r'"}], "mark": {"type": "line", "color": "#ff1010", "strokeWidth": 4},
    "encoding": {"x": {"field": "h", "type": "quantitative", "scale": {"domain": [-1.5, 1.5], "nice": false, "zero": false}, "axis": {"orient": "bottom", "values": [-1, -0.5, 0, 0.5, 1], "labels": false, "title": null}},
                 "y": {"field": "m", "type": "quantitative", "scale": {"domain": [-40, 40], "nice": false, "zero": false}, "axis": {"orient": "left", "values": [-30, -15, 0, 15, 30], "labelExpr": "abs(datum.value) === 15 ? '' : '' + datum.value", "labelPadding": 15, "title": null}}}},
   {"transform": [{"filter": "datum.p === 'D' && datum.s === 'b'"}], "mark": {"type": "line", "color": "black", "strokeWidth": 4},
    "encoding": {"x": {"field": "h", "type": "quantitative", "scale": {"domain": [-1.5, 1.5], "nice": false, "zero": false}, "axis": {"orient": "top", "values": [-1, -0.5, 0, 0.5, 1], "labels": false, "title": null}},
                 "y": {"field": "m", "type": "quantitative", "scale": {"domain": [-40, 40], "nice": false, "zero": false}, "axis": {"orient": "right", "values": [-30, -15, 0, 15, 30], "labels": false, "title": null}}}},
   {"data": {"values": [{}]}, "mark": {"type": "rule", "color": "black", "strokeWidth": 1.3, "strokeDash": [7, 5]}, "encoding": {"y": {"datum": 0, "type": "quantitative", "axis": null}}},
   {"data": {"values": [{}]}, "mark": {"type": "text", "fontSize": 25, "baseline": "middle", "align": "center"}, "encoding": {"x": {"datum": 0.926, "type": "quantitative", "axis": null}, "y": {"datum": -21.5, "type": "quantitative", "axis": null}, "text": {"value": "+22 V"}}}
  ],
  "resolve": {"axis": {"x": "independent", "y": "independent"}}},
 {"width": 362, "height": 143.6, "data": {"name": "curves"},
  "layer": [
   {"transform": [{"filter": "datum.p === 'E' && datum.s === 'r'"}], "mark": {"type": "line", "color": "#ff1010", "strokeWidth": 4},
    "encoding": {"x": {"field": "h", "type": "quantitative", "scale": {"domain": [-1.5, 1.5], "nice": false, "zero": false}, "axis": {"orient": "bottom", "values": [-1, -0.5, 0, 0.5, 1], "labelExpr": "abs(datum.value) % 1 === 0 ? '' + datum.value : ''", "labelPadding": 22, "title": "μ₀H (T)", "titlePadding": 10}},
                 "y": {"field": "m", "type": "quantitative", "scale": {"domain": [-40, 40], "nice": false, "zero": false}, "axis": {"orient": "left", "values": [-30, -15, 0, 15, 30], "labelExpr": "abs(datum.value) === 15 ? '' : '' + datum.value", "labelPadding": 15, "title": null}}}},
   {"transform": [{"filter": "datum.p === 'E' && datum.s === 'b'"}], "mark": {"type": "line", "color": "black", "strokeWidth": 4},
    "encoding": {"x": {"field": "h", "type": "quantitative", "scale": {"domain": [-1.5, 1.5], "nice": false, "zero": false}, "axis": {"orient": "top", "values": [-1, -0.5, 0, 0.5, 1], "labels": false, "title": null}},
                 "y": {"field": "m", "type": "quantitative", "scale": {"domain": [-40, 40], "nice": false, "zero": false}, "axis": {"orient": "right", "values": [-30, -15, 0, 15, 30], "labels": false, "title": null}}}},
   {"data": {"values": [{}]}, "mark": {"type": "rule", "color": "black", "strokeWidth": 1.3, "strokeDash": [7, 5]}, "encoding": {"y": {"datum": 0, "type": "quantitative", "axis": null}}},
   {"data": {"values": [{}]}, "mark": {"type": "text", "fontSize": 25, "baseline": "middle", "align": "center"}, "encoding": {"x": {"datum": 0.926, "type": "quantitative", "axis": null}, "y": {"datum": -18.7, "type": "quantitative", "axis": null}, "text": {"value": "+30 V"}}}
  ],
  "resolve": {"axis": {"x": "independent", "y": "independent"}}}
 ], "spacing": 0, "bounds": "flush"},
{"vconcat": [
 {"width": 359, "height": 39, "view": {"stroke": null}, "data": {"values": [{}]},
  "layer": [
   {"mark": {"type": "rect", "color": {"gradient": "linear", "x1": 0, "y1": 0, "x2": 1, "y2": 0, "stops": [{"offset": 0, "color": "#0000ff"}, {"offset": 0.5, "color": "#ffffff"}, {"offset": 1, "color": "#ff0000"}]}},
    "encoding": {"x": {"datum": 0, "type": "quantitative", "scale": {"domain": [-0.002426, 0.045961], "nice": false, "zero": false}, "axis": null}, "x2": {"datum": 0.031},
                 "y": {"datum": 18, "type": "quantitative", "scale": {"domain": [0, 39], "nice": false, "zero": false}, "axis": null}, "y2": {"datum": 54}}},
   {"mark": {"type": "text", "fontSize": 23, "align": "right", "baseline": "middle"},
    "encoding": {"x": {"datum": -0.002022, "type": "quantitative", "scale": {"domain": [-0.002426, 0.045961], "nice": false, "zero": false}, "axis": null}, "y": {"datum": 36, "type": "quantitative", "scale": {"domain": [0, 39], "nice": false, "zero": false}, "axis": null}, "text": {"value": "0"}}},
   {"mark": {"type": "text", "fontSize": 23, "align": "left", "baseline": "middle"},
    "encoding": {"x": {"datum": 0.032078, "type": "quantitative", "scale": {"domain": [-0.002426, 0.045961], "nice": false, "zero": false}, "axis": null}, "y": {"datum": 36, "type": "quantitative", "scale": {"domain": [0, 39], "nice": false, "zero": false}, "axis": null}, "text": {"value": "0.031"}}},
   {"mark": {"type": "text", "fontSize": 50, "fontWeight": "bold", "baseline": "alphabetic", "align": "center"},
    "encoding": {"x": {"datum": -0.013855, "type": "quantitative", "scale": {"domain": [-0.002426, 0.045961], "nice": false, "zero": false}, "axis": null}, "y": {"datum": 18, "type": "quantitative", "scale": {"domain": [0, 39], "nice": false, "zero": false}, "axis": null}, "text": {"value": "b"}}}
  ]},
 {"width": 359, "height": 318,
  "layer": [
   {"data": {"name": "heat"}, "mark": {"type": "rect", "strokeWidth": 0.7},
    "encoding": {
     "x": {"field": "h1", "type": "quantitative", "scale": {"domain": [0, 1.2], "nice": false, "zero": false}, "axis": {"orient": "bottom", "values": [0, 0.25, 0.5, 0.75, 1], "labelExpr": "(datum.value * 2) % 1 === 0 ? format(datum.value, '.1f') : ''", "labelPadding": 15, "title": "μ₀H (T)", "titlePadding": 12}},
     "x2": {"field": "h2"},
     "y": {"field": "v1", "type": "quantitative", "scale": {"domain": [-26, 30], "nice": false, "zero": false}, "axis": {"orient": "left", "values": [-24, -18, -12, -6, 0, 6, 12, 18, 24], "labelExpr": "datum.value % 12 === 0 ? '' + datum.value : ''", "labelPadding": 12.6, "title": "Gate voltage (V)", "titlePadding": 8}},
     "y2": {"field": "v2"},
     "color": {"field": "m", "type": "quantitative", "scale": {"domain": [0, 0.0155, 0.031], "range": ["#0000ff", "#ffffff", "#ff0000"], "interpolate": "rgb"}, "legend": null},
     "stroke": {"field": "m", "type": "quantitative", "scale": {"domain": [0, 0.0155, 0.031], "range": ["#0000ff", "#ffffff", "#ff0000"], "interpolate": "rgb"}, "legend": null}
    }},
   {"data": {"values": [{}]}, "mark": {"type": "text", "fontSize": 37, "color": "white", "baseline": "middle", "align": "center"},
    "encoding": {"x": {"datum": 0.239, "type": "quantitative", "scale": {"domain": [0, 1.2], "nice": false, "zero": false}, "axis": {"orient": "top", "values": [0, 0.25, 0.5, 0.75, 1], "labels": false, "title": null}},
                 "y": {"datum": -1.129, "type": "quantitative", "scale": {"domain": [-2.16667, 2.5], "nice": false, "zero": false}, "axis": {"orient": "right", "values": [-2, -1.5, -1, -0.5, 0, 0.5, 1, 1.5, 2], "labelExpr": "datum.value % 1 === 0 ? '' + datum.value : ''", "labelPadding": 12, "title": "Doping density (10¹³cm⁻²)", "titleAngle": 270, "titleBaseline": "top", "titlePadding": 14}},
                 "text": {"value": "AFM"}}},
   {"data": {"values": [{}]}, "mark": {"type": "text", "fontSize": 37, "color": "white", "baseline": "middle", "align": "center"},
    "encoding": {"x": {"datum": 0.867, "type": "quantitative", "axis": null}, "y": {"datum": 1.219, "type": "quantitative", "scale": {"domain": [-2.16667, 2.5], "nice": false, "zero": false}, "axis": null}, "text": {"value": "FM"}}}
  ],
  "resolve": {"scale": {"y": "independent"}, "axis": {"x": "independent", "y": "independent"}}},
 {"width": 359, "height": 159, "view": {"stroke": null}, "data": {"values": [{}]}, "mark": {"type": "text", "text": ""}},
 {"width": 364, "height": 206, "data": {"name": "jd"},
  "layer": [
   {"encoding": {"x": {"field": "V", "type": "quantitative", "scale": {"domain": [-30, 35], "nice": false, "zero": false}, "axis": {"orient": "bottom", "values": [-30, -15, 0, 15, 30], "labelExpr": "datum.value % 30 === 0 ? '' + datum.value : ''", "labelPadding": 12.4, "title": "Gate voltage (V)", "titlePadding": 10}},
                 "y": {"field": "J", "type": "quantitative", "scale": {"domain": [-10, 50], "nice": false, "zero": false}, "axis": {"orient": "left", "values": [0, 10, 20, 30, 40], "labelExpr": "datum.value % 20 === 0 ? '' + datum.value : ''", "labelPadding": 10, "title": "J⊥ (μJm⁻²)", "titlePadding": 0}}},
    "layer": [
     {"mark": {"type": "line", "color": "#333333", "strokeWidth": 1.5}},
     {"mark": {"type": "errorbar", "color": "black", "thickness": 1.5, "ticks": {"size": 9}}, "encoding": {"yError": {"field": "Je"}}},
     {"mark": {"type": "point", "shape": "circle", "filled": true, "color": "black", "size": 40, "opacity": 1}}
    ]},
   {"encoding": {"x": {"field": "V", "type": "quantitative", "scale": {"domain": [-30, 35], "nice": false, "zero": false}, "axis": null},
                 "y": {"field": "Hs", "type": "quantitative", "scale": {"domain": [-0.16, 0.8], "nice": false, "zero": false}, "axis": {"orient": "right", "values": [-0.1, 0, 0.1, 0.2, 0.3, 0.4, 0.5, 0.6, 0.7, 0.8], "labelExpr": "round(datum.value * 10) % 2 === 0 ? format(datum.value, '.1f') : ''", "labelColor": "#0000ff", "tickColor": "#0000ff", "domain": true, "domainColor": "#0000ff", "domainWidth": 1.5, "labelPadding": 11, "title": "μ₀Hsf (T)", "titleColor": "#0000ff", "titleAngle": 270, "titleBaseline": "top", "titlePadding": 4}}},
    "layer": [
     {"mark": {"type": "line", "color": "#0000ff", "strokeWidth": 1.5}},
     {"mark": {"type": "errorbar", "color": "#0000ff", "thickness": 1.5, "ticks": {"size": 9}}, "encoding": {"yError": {"field": "He"}}},
     {"mark": {"type": "point", "shape": "square", "filled": true, "color": "#0000ff", "size": 40, "opacity": 1}}
    ]},
   {"data": {"values": [{}]}, "mark": {"type": "rule", "color": "black", "strokeWidth": 1.3},
    "encoding": {"x": {"datum": -2.5, "type": "quantitative", "scale": {"domain": [-2.5, 2.91667], "nice": false, "zero": false}, "axis": {"orient": "top", "values": [-2.5, -1.25, 0, 1.25, 2.5], "labelExpr": "datum.value % 2.5 === 0 ? replace(format(datum.value, '.1f'), '−', '-') : ''", "labelPadding": 18, "title": "Doping density (10¹³cm⁻²)", "titlePadding": 8}},
                 "x2": {"datum": 2.91667},
                 "y": {"datum": 0, "type": "quantitative", "scale": {"domain": [-10, 50], "nice": false, "zero": false}, "axis": null}}},
   {"data": {"values": [{}]}, "mark": {"type": "text", "fontSize": 50, "fontWeight": "bold", "baseline": "alphabetic", "align": "center"},
    "encoding": {"x": {"datum": -38.7, "type": "quantitative", "scale": {"domain": [-30, 35], "nice": false, "zero": false}, "axis": null}, "y": {"datum": 67.6, "type": "quantitative", "scale": {"domain": [-10, 50], "nice": false, "zero": false}, "axis": null}, "text": {"value": "c"}}}
  ],
  "resolve": {"scale": {"x": "independent", "y": "independent"}, "axis": {"x": "independent", "y": "independent"}}}
 ], "spacing": 0, "bounds": "flush"}
],
"spacing": 21
}
